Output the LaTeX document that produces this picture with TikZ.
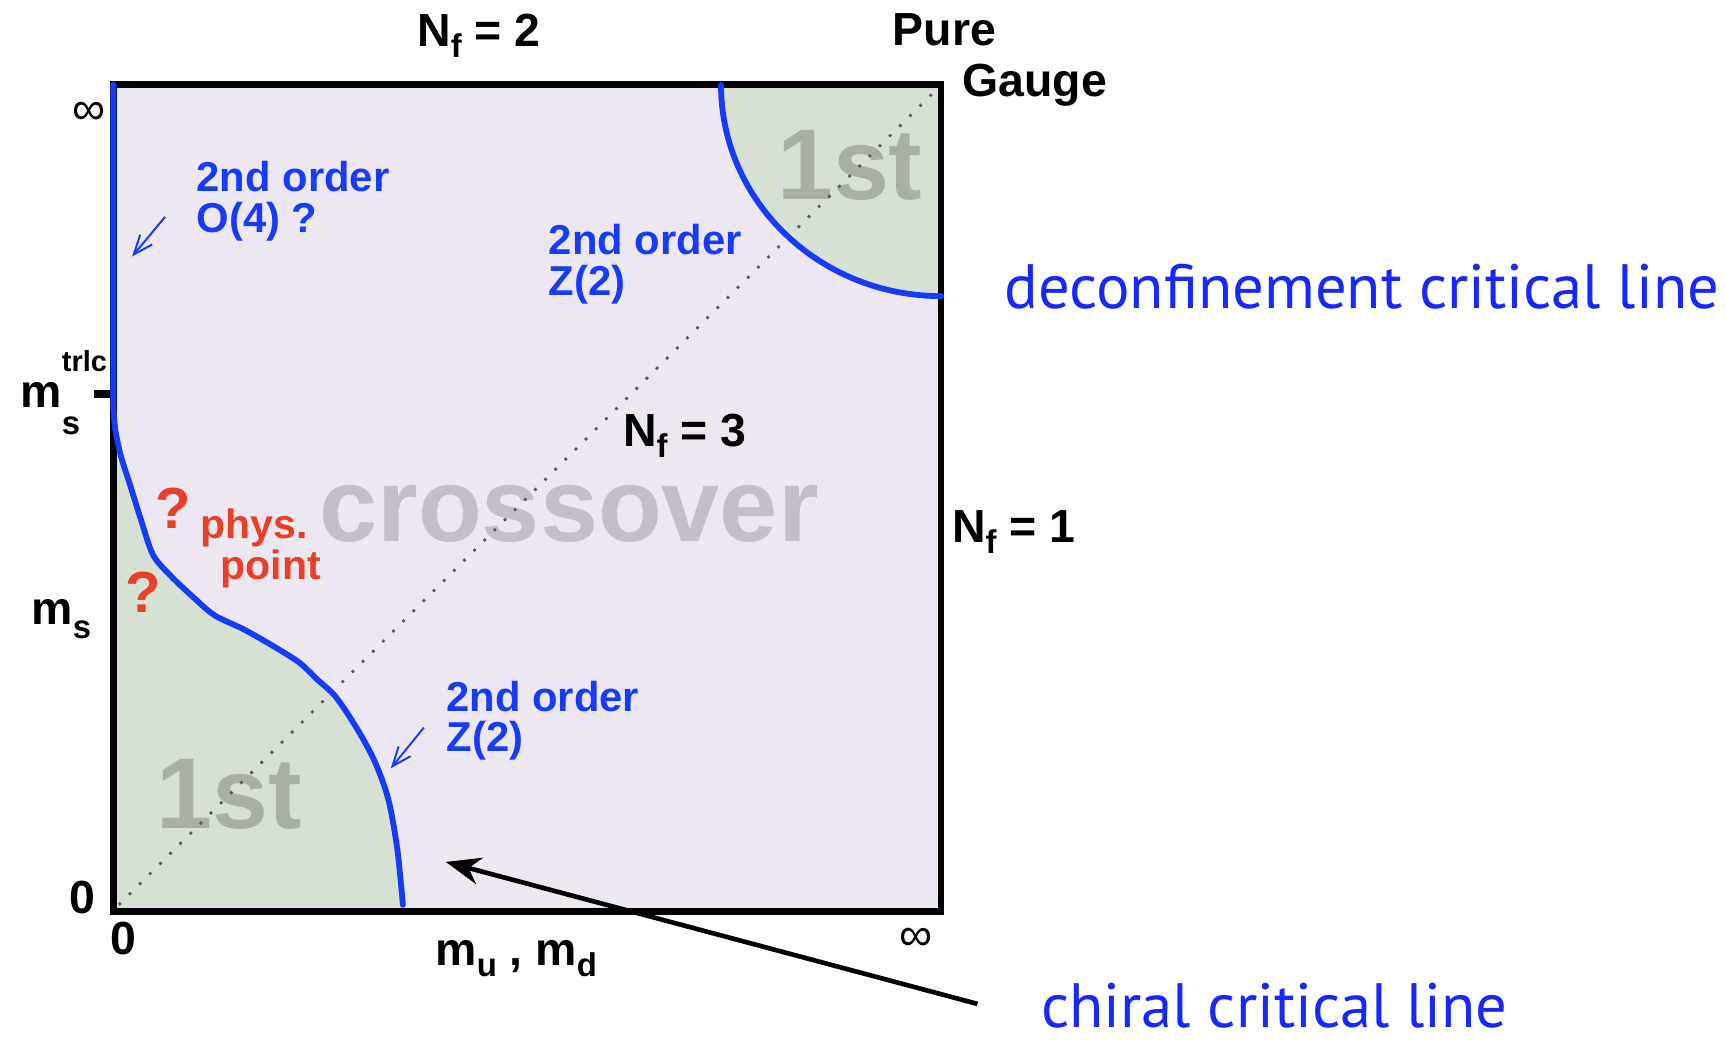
\documentclass[tikz,border=0pt]{standalone}
\usepackage{fontspec}
\setmainfont{Liberation Sans}
\newfontfamily\gillfont{PT Sans}
\usetikzlibrary{arrows.meta, positioning}

\definecolor{regionbg}{RGB}{236,231,240}
\definecolor{firstbg}{RGB}{214,224,211}
\definecolor{lineblue}{RGB}{20,60,250}
\definecolor{physred}{RGB}{232,64,40}
\definecolor{crossgray}{RGB}{196,190,200}
\definecolor{firstgray}{RGB}{168,176,166}
\definecolor{textblue}{RGB}{20,40,255}

\newcommand{\lowsub}[1]{\raisebox{-0.45ex}{\fontsize{8.5}{9}\selectfont #1}}

\begin{document}
\begin{tikzpicture}[
    x=0.1mm, y=-0.1mm,
    every node/.style={inner sep=0pt, font=\bfseries\fontsize{12}{14}\selectfont},
    axislabel/.style={anchor=base},
    orderlabel/.style={anchor=north west, align=left, text=lineblue,
        font=\bfseries\fontsize{10.8}{10.5}\selectfont},
    physlabel/.style={text=physred, font=\bfseries\fontsize{10.6}{12}\selectfont},
    qmark/.style={text=physred, font=\bfseries\fontsize{15}{16}\selectfont},
    bigfirst/.style={text=firstgray, font=\bfseries\fontsize{26}{28}\selectfont},
    critline/.style={draw=lineblue, line width=1.5pt, line cap=round},
    pointer/.style={-{Straight Barb[length=5pt, width=4pt]}, draw=lineblue, line width=0.5pt},
    remark/.style={anchor=base west, text=textblue, font=\gillfont\fontsize{16.2}{18}\selectfont}
]
\useasboundingbox (0,0) rectangle (1568,948);

% ------------------------
% Regions
% ------------------------
\fill[regionbg] (103,77) rectangle (855,828);
\fill[firstbg] plot[smooth] coordinates {(103,372) (105,392) (110,415) (118,440) (128,472)
    (139,504) (155,523) (175,542) (195,559) (222,572) (250,588) (272,602) (289,618)
    (305,633) (325,663) (341,693) (353,727) (361,772) (366,826)}
    -- (103,828) -- cycle;
\fill[firstbg] (655,77) arc[start angle=180, end angle=90, x radius=200, y radius=192]
    -- (855,77) -- cycle;

% ------------------------
% Big region labels
% ------------------------
\node (crossover) [text=crossgray, font=\bfseries\fontsize{27}{29}\selectfont] at (517,467) {crossover};
\node (firstlow) [bigfirst] at (208,722) {1st};
\node (firsthigh) [bigfirst] at (772,150) {1st};

% ------------------------
% Frame and diagonal
% ------------------------
\draw[gray!70!black, line width=0.7pt, dash pattern=on 0.7pt off 3pt] (108,822) -- (850,82);
\draw[line width=1.7pt] (103,77) rectangle (855,828);
\draw[line width=2pt] (85,358) -- (103,358);

% ------------------------
% Critical lines
% ------------------------
\draw[critline] (103,77) -- plot[smooth] coordinates {(103,372) (105,392) (110,415) (118,440)
    (128,472) (139,504) (155,523) (175,542) (195,559) (222,572) (250,588) (272,602) (289,618)
    (305,633) (325,663) (341,693) (353,727) (361,772) (366,822)};
\draw[critline] (655,77) arc[start angle=180, end angle=90, x radius=200, y radius=192];

% ------------------------
% Axis labels
% ------------------------
\node (nftwo) [axislabel] at (435,42) {N\lowsub{f} = 2};
\node (pure) [axislabel] at (858,41) {Pure};
\node (gauge) [axislabel] at (940,88) {Gauge};
\node (nfthree) [axislabel] at (622,406) {N\lowsub{f} = 3};
\node (nfone) [axislabel] at (921,493) {N\lowsub{f} = 1};
\node (infleft) [font=\fontsize{12}{14}\selectfont] at (81,103) {∞};
\node (infbottom) [font=\fontsize{12}{14}\selectfont] at (832,853) {∞};
\node (zeroleft) [axislabel] at (75,830) {0};
\node (zerobottom) [axislabel] at (112,867) {0};
\node (mstrlc) [anchor=base west] at (18,370)
    {m\makebox[0pt][l]{\raisebox{1.45ex}{\fontsize{7.5}{8}\selectfont trlc}}\raisebox{-1.1ex}{\fontsize{8.5}{9}\selectfont s}};
\node (ms) [anchor=base west] at (28,567) {m\raisebox{-0.6ex}{\fontsize{8.5}{9}\selectfont s}};
\node (mumd) [anchor=base west] at (395,877) {m\lowsub{u} , m\lowsub{d}};

% ------------------------
% Order labels
% ------------------------
\node (ofour) [orderlabel] at (178,146) {2nd order\\O(4) ?};
\node (ztwotop) [orderlabel] at (498,203) {2nd order\\Z(2)};
\node (ztwobottom) [orderlabel] at (405,618) {2nd order\\Z(2)};
\coordinate (ofourtail) at (150,197);
\coordinate (ofourtip) at (120,233);
\coordinate (ztwotail) at (385,661);
\coordinate (ztwotip) at (355,698);
\draw[pointer] (ofourtail) -- (ofourtip);
\draw[pointer] (ztwotail) -- (ztwotip);

% ------------------------
% Physical point
% ------------------------
\node (qone) [qmark] at (157,462) {?};
\node (qtwo) [qmark] at (130,538) {?};
\node (phys) [physlabel] at (231,480) {phys.};
\node (point) [physlabel] at (246,517) {point};

% ------------------------
% Remarks
% ------------------------
\node (deconf) [remark] at (912,280) {deconfinement critical line};
\node (chiral) [remark] at (945,933) {chiral critical line};
\coordinate (chiraltail) at (888,912);
\coordinate (chiraltip) at (405,783);
\draw[-{Stealth[length=9pt, width=7pt]}, line width=1.2pt] (chiraltail) -- (chiraltip);

\end{tikzpicture}
\end{document}
